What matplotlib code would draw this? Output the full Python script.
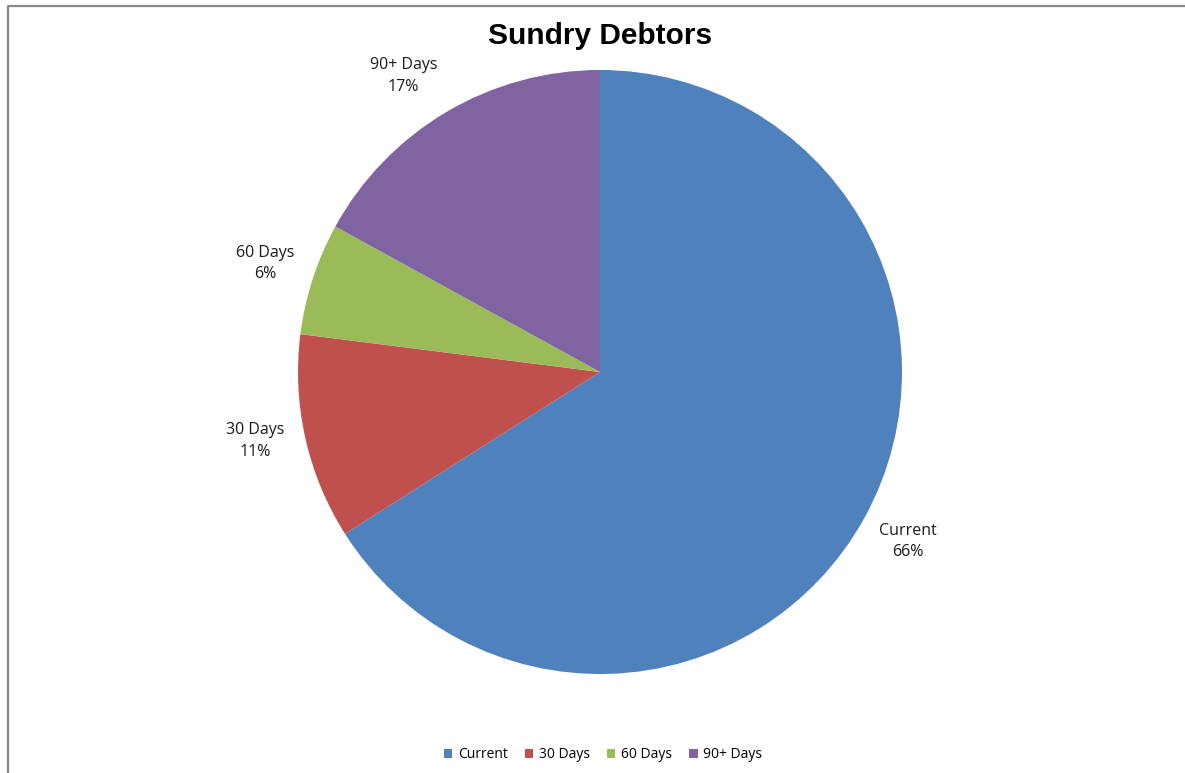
import matplotlib
matplotlib.use("Agg")
import numpy as np
import matplotlib.pyplot as plt
from matplotlib.lines import Line2D
from matplotlib.patches import Patch

categories = ["Current", "30 Days", "60 Days", "90+ Days"]
values = [66, 11, 6, 17]
colors = ["#4F81BD", "#C0504D", "#9BBB59", "#8064A2"]
title = "Sundry Debtors"

W, H = 1185, 773
fig = plt.figure(figsize=(W / 100, H / 100), dpi=100)
fig.patch.set_facecolor("white")

# pie axes: centre (600,372), radius 302 px
cx, cy, r = 600, 372, 302
ax = fig.add_axes([(cx - r) / W, (H - cy - r) / H, 2 * r / W, 2 * r / H])

labels = [f"{c}\n{v}%" for c, v in zip(categories, values)]
wedges, texts = ax.pie(values, colors=colors, startangle=90, counterclock=False,
                       radius=1, labels=labels, labeldistance=1.165,
                       wedgeprops=dict(linewidth=0))
ax.set_xlim(-1, 1)
ax.set_ylim(-1, 1)
ax.set_aspect("equal")
ax.axis("off")

# per-label fine tuning (angle offset in degrees, distance), like Excel's placement
adjust = {"30 Days": (-1.3, 1.165), "90+ Days": (3.0, 1.177)}
for w, t, c in zip(wedges, texts, categories):
    t.set_ha("center")
    t.set_va("center")
    t.set_fontfamily("Open Sans")
    t.set_fontsize(11.5)
    t.set_color("#1a1a1a")
    t.set_linespacing(1.45)
    t.set_clip_on(False)
    if c in adjust:
        da, d = adjust[c]
        ang = np.deg2rad((w.theta1 + w.theta2) / 2 + da)
        t.set_position((d * np.cos(ang), d * np.sin(ang)))

fig.text(600 / W, 1 - 36 / H, title, ha="center", va="center",
         fontfamily="Liberation Sans", fontweight="bold", fontsize=21.5)

handles = [Patch(facecolor=c, edgecolor="none") for c in colors]
leg = fig.legend(handles, categories, loc="center", bbox_to_anchor=(603 / W, 1 - 755 / H),
                 ncol=4, frameon=False, handlelength=0.6, handleheight=0.6,
                 handletextpad=0.4, columnspacing=1.25,
                 prop=dict(family="Open Sans", size=10))

# chart border (top and left edges visible)
fig.add_artist(Line2D([7.5 / W, 7.5 / W, 1.0], [0.0, 1 - 5.5 / H, 1 - 5.5 / H],
                      transform=fig.transFigure, color="#888888", linewidth=1.6))

fig.savefig("out.png", dpi=100, facecolor="white")
